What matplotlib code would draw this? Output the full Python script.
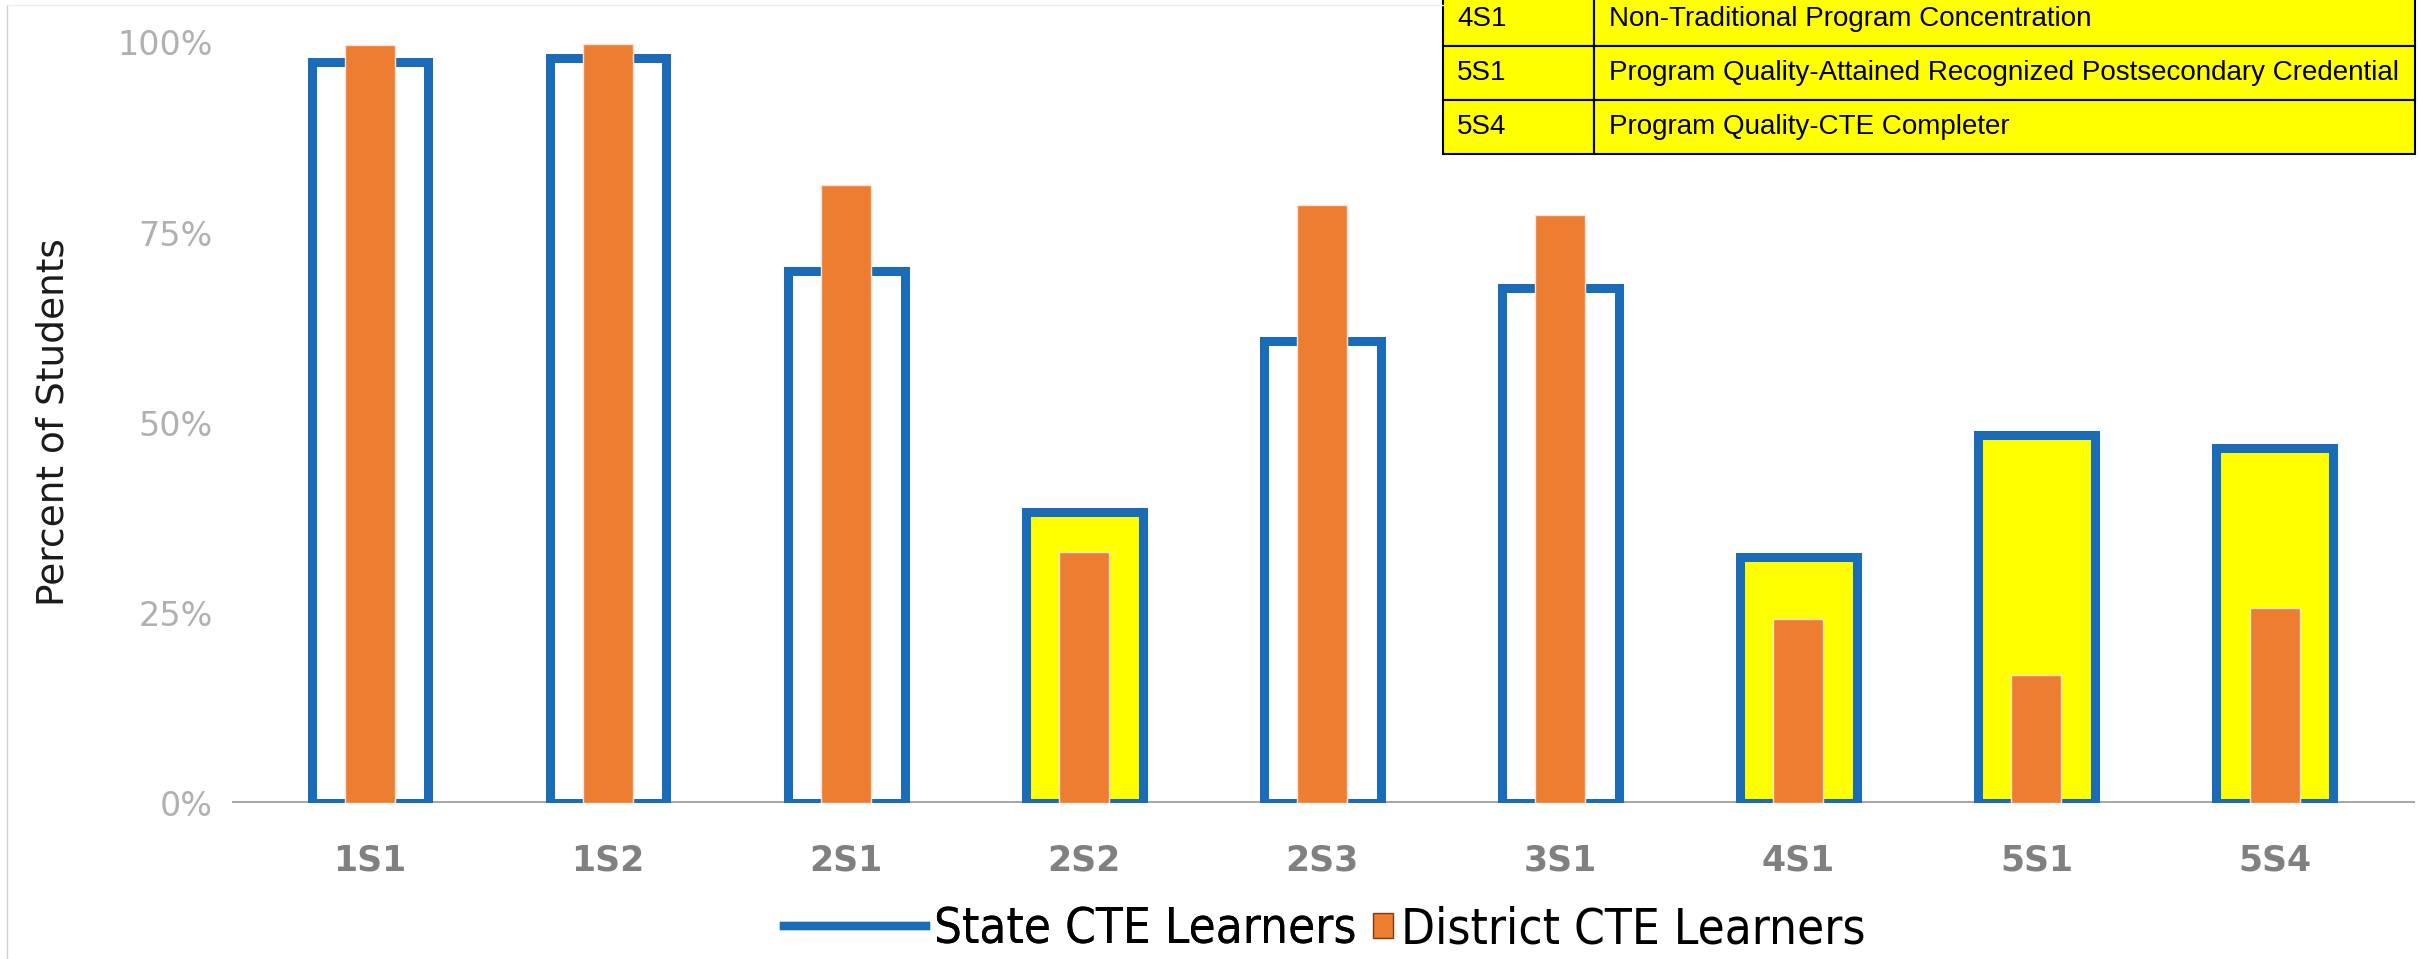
import matplotlib
matplotlib.use('Agg')
import matplotlib.pyplot as plt
from matplotlib.patches import Rectangle, Patch
from matplotlib.lines import Line2D
from matplotlib import font_manager as fm
import numpy as np

categories = ['1S1', '1S2', '2S1', '2S2', '2S3', '3S1', '4S1', '5S1', '5S4']
state_pct = [97.4, 98.0, 70.0, 38.2, 60.7, 67.7, 32.4, 48.4, 46.7]
district_pct = [99.7, 99.8, 81.2, 33.0, 78.6, 77.3, 24.2, 16.8, 25.6]
yticks = [0, 25, 50, 75, 100]
ytick_labels = ['0%', '25%', '50%', '75%', '100%']
table_codes = ['4S1', '5S1', '5S4']
table_desc = ['Non-Traditional Program Concentration',
              'Program Quality-Attained Recognized Postsecondary Credential',
              'Program Quality-CTE Completer']
legend_labels = ['State CTE Learners', 'District CTE Learners']

BLUE = '#1A6BB8'
ORANGE = '#ED7D31'
YELLOW = '#FFFF00'

# condensed font for the legend, if available
cond_file = None
for key in ['DejaVuSansCondensed.ttf', 'LiberationSansNarrow-Regular.ttf']:
    for f in fm.fontManager.ttflist:
        if f.fname.endswith(key):
            cond_file = f.fname
            break
    if cond_file:
        break
if cond_file:
    leg_prop = fm.FontProperties(fname=cond_file, size=35.4)
else:
    leg_prop = fm.FontProperties(family='DejaVu Sans', size=32.3)

W, H = 2420, 959
fig = plt.figure(figsize=(W / 100, H / 100), dpi=100)
fig.patch.set_facecolor('white')

ax = fig.add_axes([232 / W, (H - 803) / H, (2415 - 232) / W, (803 - 12) / H])
x = np.arange(len(categories))
fills = [YELLOW if d < s else 'white' for s, d in zip(state_pct, district_pct)]
ax.bar(x, state_pct, width=0.49, color=fills, edgecolor=BLUE, linewidth=6.5, zorder=3)
ax.bar(x, district_pct, width=0.21, color=ORANGE, edgecolor='#FBE3D3', linewidth=1.0, zorder=4)

ax.axhline(0, color='#a6a6a6', lw=3.6, zorder=2)
ax.axhline(0, color='white', lw=0.8, zorder=2.1)

ax.set_xlim(-0.58, 8.59)
ax.set_ylim(0, 104)
for s in ax.spines.values():
    s.set_visible(False)
ax.set_yticks(yticks, ytick_labels)
ax.set_xticks(x, categories)
ax.tick_params(axis='y', length=0, pad=14, labelsize=24, labelcolor='#b0b0b0')
ax.tick_params(axis='x', length=0, pad=29, labelsize=25, labelcolor='#808080')
for t in ax.get_xticklabels():
    t.set_fontweight('bold')

fig.text(54 / W, 1 - 422 / H, 'Percent of Students', rotation=90,
         va='center', ha='center', fontsize=27, color='#1a1a1a')

# legends
h1 = Line2D([0], [0], color=BLUE, lw=6)
h2 = Patch(facecolor=ORANGE, edgecolor='#7a3a10', linewidth=1.0)
ly = 1 - 929 / H
leg1 = fig.legend([h1], [legend_labels[0]], loc='center right',
                  bbox_to_anchor=(1356 / W, ly), frameon=False, prop=leg_prop,
                  handlelength=2.9, handletextpad=0.15, borderpad=0, borderaxespad=0)
leg2 = fig.legend([h2], [legend_labels[1]], loc='center left',
                  bbox_to_anchor=(1373 / W, ly), frameon=False, prop=leg_prop,
                  handlelength=0.4, handleheight=0.4, handletextpad=0.16,
                  borderpad=0, borderaxespad=0)
fig.add_artist(leg1)

# overlay (pixel coordinates) for table and border
ov = fig.add_axes([0, 0, 1, 1], zorder=10)
ov.set_xlim(0, W)
ov.set_ylim(H, 0)
ov.axis('off')
ov.patch.set_alpha(0)

row_edges = [-8, 46, 100, 154]
col_edges = [1443, 1594, 2415]
for i, (code, desc) in enumerate(zip(table_codes, table_desc)):
    y0, y1 = row_edges[i], row_edges[i + 1]
    for j in range(2):
        ov.add_patch(Rectangle((col_edges[j], y0), col_edges[j + 1] - col_edges[j], y1 - y0,
                               facecolor=YELLOW, edgecolor='black', linewidth=1.5))
    yc = (y0 + y1) / 2
    ov.text(1457, yc, code, va='center', ha='left', fontsize=20,
            family='Liberation Sans', color='black')
    ov.text(1609, yc, desc, va='center', ha='left', fontsize=20,
            family='Liberation Sans', color='black')

ov.plot([7, 7], [5, H], color='#d0d0d0', lw=1)
ov.plot([7, 1443], [5, 5], color='#eeeeee', lw=1)

fig.savefig('out.png', dpi=100, facecolor='white')
